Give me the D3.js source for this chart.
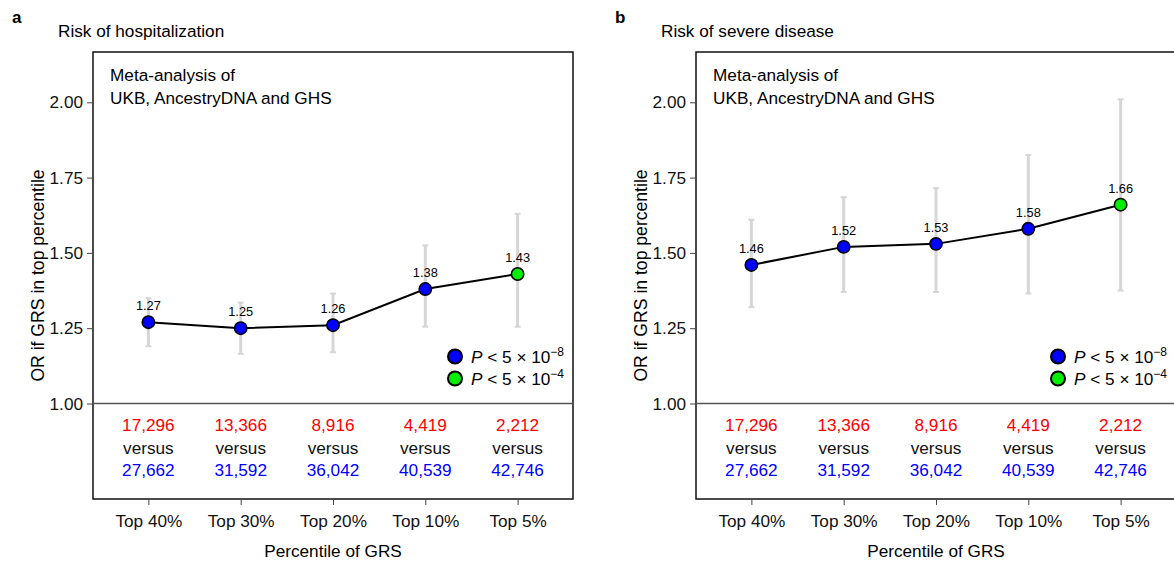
<!DOCTYPE html>
<html>
<head>
<meta charset="utf-8">
<script src="https://cdn.jsdelivr.net/npm/d3@7"></script>
<style>
  body { margin: 0; background: #fff; }
  svg { font-family: "Liberation Sans", Arial, Helvetica, sans-serif; }
</style>
</head>
<body>
<div id="chart"></div>
<script>
// Data
const groups = ["Top 40%", "Top 30%", "Top 20%", "Top 10%", "Top 5%"];
const cases = ["17,296", "13,366", "8,916", "4,419", "2,212"];
const controls = ["27,662", "31,592", "36,042", "40,539", "42,746"];
const yTicks = [1.0, 1.25, 1.5, 1.75, 2.0];

const hospOR = [1.27, 1.25, 1.26, 1.38, 1.43];
const hospLow = [1.19, 1.165, 1.17, 1.255, 1.255];
const hospHigh = [1.35, 1.335, 1.365, 1.525, 1.63];
const hospSig = ["p8", "p8", "p8", "p8", "p4"];

const sevOR = [1.46, 1.52, 1.53, 1.58, 1.66];
const sevLow = [1.32, 1.37, 1.37, 1.365, 1.375];
const sevHigh = [1.61, 1.685, 1.715, 1.825, 2.01];
const sevSig = ["p8", "p8", "p8", "p8", "p4"];

const panels = [
  { letter: "a", title: "Risk of hospitalization", or: hospOR, lo: hospLow, hi: hospHigh, sig: hospSig, left: 93 },
  { letter: "b", title: "Risk of severe disease", or: sevOR, lo: sevLow, hi: sevHigh, sig: sevSig, left: 696 }
];

const colors = { p8: "#0000ff", p4: "#00ee00" };
const boxW = 480, boxTop = 52, boxBottom = 499;
const fs = "17.2px";

const svg = d3.select("#chart")
  .append("svg")
  .attr("width", 1174)
  .attr("height", 562);

const y = d3.scaleLinear().domain([1, 2]).range([403.5, 102.3]);

panels.forEach(function (p) {
  const g = svg.append("g");
  const x = d3.scalePoint().domain(groups).range([p.left, p.left + boxW]).padding(0.6);
  const rows = groups.map((d, i) => ({
    g: d, or: p.or[i], lo: p.lo[i], hi: p.hi[i], sig: p.sig[i], cases: cases[i], ctrl: controls[i]
  }));

  // panel letter + title
  g.append("text")
    .attr("x", p.left - 81).attr("y", 23)
    .style("font-weight", "bold").style("font-size", "17px")
    .text(p.letter);
  g.append("text")
    .attr("x", p.left - 35).attr("y", 37)
    .style("font-size", fs)
    .text(p.title);

  // frame
  g.append("rect")
    .attr("x", p.left).attr("y", boxTop)
    .attr("width", boxW).attr("height", boxBottom - boxTop)
    .attr("fill", "none").attr("stroke", "#111").attr("stroke-width", 1.5);

  // baseline at OR = 1
  g.append("line")
    .attr("x1", p.left).attr("x2", p.left + boxW)
    .attr("y1", y(1)).attr("y2", y(1))
    .attr("stroke", "#555").attr("stroke-width", 1.5);

  // y axis
  const yAxis = g.append("g")
    .attr("transform", "translate(" + p.left + ",0)")
    .call(d3.axisLeft(y).tickValues(yTicks).tickFormat(d3.format(".2f")).tickSize(6).tickPadding(4));
  yAxis.select(".domain").remove();
  yAxis.selectAll("line").attr("stroke", "#444");
  yAxis.selectAll("text").style("font-size", fs).attr("fill", "#111").style("font-family", "inherit");

  // x axis
  const xAxis = g.append("g")
    .attr("transform", "translate(0," + boxBottom + ")")
    .call(d3.axisBottom(x).tickSize(6).tickPadding(10));
  xAxis.select(".domain").remove();
  xAxis.selectAll("line").attr("stroke", "#444");
  xAxis.selectAll("text").style("font-size", fs).attr("fill", "#111").style("font-family", "inherit");

  // axis titles
  g.append("text")
    .attr("transform", "translate(" + (p.left - 49) + "," + ((boxTop + boxBottom) / 2) + ") rotate(-90)")
    .attr("text-anchor", "middle")
    .style("font-size", "17.6px")
    .text("OR if GRS in top percentile");
  g.append("text")
    .attr("x", p.left + boxW / 2).attr("y", 557)
    .attr("text-anchor", "middle")
    .style("font-size", fs)
    .text("Percentile of GRS");

  g.append("text")
    .attr("x", p.left + 17).attr("y", 81)
    .style("font-size", fs)
    .text("Meta-analysis of");
  g.append("text")
    .attr("x", p.left + 17).attr("y", 104)
    .style("font-size", fs)
    .text("UKB, AncestryDNA and GHS");

  // error bars
  const eb = g.selectAll(".eb").data(rows).join("g").attr("class", "eb");
  eb.append("line")
    .attr("x1", d => x(d.g)).attr("x2", d => x(d.g))
    .attr("y1", d => y(d.lo)).attr("y2", d => y(d.hi))
    .attr("stroke", "#d6d6d6").attr("stroke-width", 3);
  eb.selectAll(".cap").data(d => [[d.g, d.lo], [d.g, d.hi]]).join("line")
    .attr("class", "cap")
    .attr("x1", d => x(d[0]) - 3).attr("x2", d => x(d[0]) + 3)
    .attr("y1", d => y(d[1])).attr("y2", d => y(d[1]))
    .attr("stroke", "#d6d6d6").attr("stroke-width", 2);

  // line
  g.append("path")
    .datum(rows)
    .attr("fill", "none").attr("stroke", "#000").attr("stroke-width", 2)
    .attr("d", d3.line().x(d => x(d.g)).y(d => y(d.or)));

  // points
  g.selectAll(".pt").data(rows).join("circle")
    .attr("class", "pt")
    .attr("cx", d => x(d.g)).attr("cy", d => y(d.or)).attr("r", 6.2)
    .attr("fill", d => colors[d.sig]).attr("stroke", "#000").attr("stroke-width", 1.5);

  g.selectAll(".lbl").data(rows).join("text")
    .attr("class", "lbl")
    .attr("x", d => x(d.g)).attr("y", d => y(d.or) - 12)
    .attr("text-anchor", "middle")
    .style("font-size", "12.8px")
    .text(d => d3.format(".2f")(d.or));

  // counts
  const cnt = g.selectAll(".cnt").data(rows).join("g").attr("class", "cnt")
    .attr("text-anchor", "middle").style("font-size", fs);
  cnt.append("text").attr("x", d => x(d.g)).attr("y", 431).attr("fill", "#ff0000").text(d => d.cases);
  cnt.append("text").attr("x", d => x(d.g)).attr("y", 453.5).attr("fill", "#111").text("versus");
  cnt.append("text").attr("x", d => x(d.g)).attr("y", 476).attr("fill", "#0000ff").text(d => d.ctrl);

  // legend
  const legend = [["p8", "8"], ["p4", "4"]];
  const lg = g.selectAll(".lg").data(legend).join("g").attr("class", "lg")
    .attr("transform", (d, i) => "translate(" + (p.left + 362) + "," + (356.5 + i * 22) + ")");
  lg.append("circle").attr("r", 7).attr("fill", d => colors[d[0]]).attr("stroke", "#000").attr("stroke-width", 2);
  const lt = lg.append("text").attr("x", 16).attr("y", 6.5).style("font-size", fs);
  lt.append("tspan").style("font-style", "italic").text("P");
  lt.append("tspan").text(" < 5 \u00d7 10");
  lt.append("tspan").attr("dy", -7).style("font-size", "12px").text(d => "\u2212" + d[1]);
});
</script>
</body>
</html>
